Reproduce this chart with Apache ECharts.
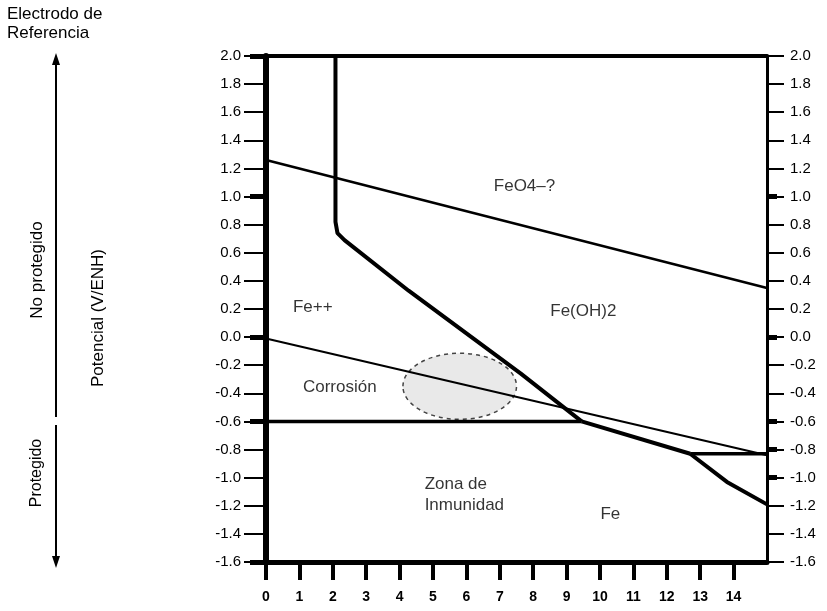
<!DOCTYPE html>
<html>
<head>
<meta charset="utf-8">
<script src="https://cdn.jsdelivr.net/npm/echarts@6/dist/echarts.min.js"></script>
<style>
  html, body { margin: 0; padding: 0; background: #fff; }
  #chart { width: 827px; height: 611px; }
</style>
</head>
<body>
<div id="chart"></div>
<script>
// pH ticks and potential range
const phTicks = [0, 1, 2, 3, 4, 5, 6, 7, 8, 9, 10, 11, 12, 13, 14];
const leftThickTicks = [2.0, 1.0, 0.0, -0.6, -1.6];
const rightThickTicks = [1.0, 0.0, -0.6, -0.8, -1.0];

// boundary lines [pH, E]
const oxygenLine = [[0, 1.26], [15, 0.35]];
const hydrogenLine = [[0, -0.01], [15, -0.84]];
const fe2FeLine = [[0, -0.6], [9.45, -0.6]];
const fe2FeOH2Line = [[2.08, 2.0], [2.08, 0.82], [2.14, 0.74], [2.35, 0.69], [4.27, 0.33], [7.63, -0.26], [9.45, -0.6]];
const feOH2FeLine = [[9.45, -0.6], [12.7, -0.83]];
const feFlatLine = [[12.7, -0.83], [15, -0.83]];
const feLowerLine = [[12.7, -0.83], [13.8, -1.03], [15, -1.19]];

// corrosion ellipse: centre pH, centre E, radius pH, radius E
const corrosionZone = [[5.8, -0.35, 1.7, 0.235]];

// region labels
const regionLabels = [
  { name: 'FeO4\u2013?', value: [7.74, 1.07] },
  { name: 'Fe(OH)2', value: [9.5, 0.185] },
  { name: 'Fe++', value: [1.4, 0.21] },
  { name: 'Corrosión', value: [2.21, -0.36] },
  { name: 'Fe', value: [10.31, -1.26] }
];
const immunityLabel = [{ name: 'Zona de\nInmunidad', value: [4.75, -1.12] }];

const FONT = 'Liberation Sans';
const fmt = v => v.toFixed(1);

let myChart = echarts.init(document.getElementById('chart'));

function lineSeries(data, width) {
  return {
    type: 'line',
    data: data,
    symbol: 'none',
    silent: true,
    lineStyle: { color: '#000', width: width },
    z: 3
  };
}

myChart.setOption({
  animation: false,
  backgroundColor: '#fff',
  grid: { left: 266, right: 60, top: 56, bottom: 49 },
  xAxis: [
    {
      type: 'value',
      position: 'bottom',
      min: 0,
      max: 15,
      interval: 1,
      splitLine: { show: false },
      axisLine: { onZero: false, lineStyle: { color: '#000', width: 5 } },
      axisTick: { customValues: phTicks, length: 18, lineStyle: { color: '#000', width: 4 } },
      axisLabel: {
        customValues: phTicks,
        margin: 28,
        color: '#000',
        fontFamily: FONT,
        fontSize: 14,
        fontWeight: 'bold'
      }
    },
    {
      type: 'value',
      position: 'top',
      min: 0,
      max: 15,
      splitLine: { show: false },
      axisLine: { onZero: false, lineStyle: { color: '#000', width: 4 } },
      axisTick: { show: false },
      axisLabel: { show: false }
    }
  ],
  yAxis: [
    {
      type: 'value',
      position: 'left',
      min: -1.6,
      max: 2.0,
      interval: 0.2,
      splitLine: { show: false },
      axisLine: { onZero: false, lineStyle: { color: '#000', width: 6 } },
      axisTick: { length: 22, lineStyle: { color: '#000', width: 2 } },
      axisLabel: { margin: 25, color: '#000', fontFamily: FONT, fontSize: 15, formatter: fmt }
    },
    {
      type: 'value',
      position: 'right',
      min: -1.6,
      max: 2.0,
      interval: 0.2,
      splitLine: { show: false },
      axisLine: { onZero: false, lineStyle: { color: '#000', width: 3 } },
      axisTick: { length: 17, lineStyle: { color: '#000', width: 2 } },
      axisLabel: { margin: 23, color: '#000', fontFamily: FONT, fontSize: 15, formatter: fmt }
    },
    {
      // thick ticks on left
      type: 'value',
      position: 'left',
      min: -1.6,
      max: 2.0,
      splitLine: { show: false },
      axisLine: { show: false, onZero: false },
      axisTick: { customValues: leftThickTicks, length: 16, lineStyle: { color: '#000', width: 5 } },
      axisLabel: { show: false }
    },
    {
      // thick ticks on right
      type: 'value',
      position: 'right',
      min: -1.6,
      max: 2.0,
      splitLine: { show: false },
      axisLine: { show: false, onZero: false },
      axisTick: { customValues: rightThickTicks, length: 10, lineStyle: { color: '#000', width: 5 } },
      axisLabel: { show: false }
    }
  ],
  graphic: [
    { type: 'text', left: 7, top: 5, style: { text: 'Electrodo de\nReferencia', fontFamily: FONT, fontSize: 17, lineHeight: 19, fill: '#000' } },
    { type: 'line', shape: { x1: 56, y1: 62, x2: 56, y2: 417 }, style: { stroke: '#000', lineWidth: 2 } },
    { type: 'polygon', shape: { points: [[56, 53], [52, 65], [60, 65]] }, style: { fill: '#000' } },
    { type: 'line', shape: { x1: 56, y1: 425, x2: 56, y2: 560 }, style: { stroke: '#000', lineWidth: 2 } },
    { type: 'polygon', shape: { points: [[56, 568], [52, 556], [60, 556]] }, style: { fill: '#000' } },
    { type: 'text', x: 37, y: 270, rotation: Math.PI / 2, style: { text: 'No protegido', fontFamily: FONT, fontSize: 17, fill: '#000', align: 'center', verticalAlign: 'middle' } },
    { type: 'text', x: 37, y: 473, rotation: Math.PI / 2, style: { text: 'Protegido', fontFamily: FONT, fontSize: 16, fill: '#000', align: 'center', verticalAlign: 'middle' } },
    { type: 'text', x: 98, y: 318, rotation: Math.PI / 2, style: { text: 'Potencial (V/ENH)', fontFamily: FONT, fontSize: 17, fill: '#000', align: 'center', verticalAlign: 'middle' } }
  ],
  series: [
    {
      type: 'custom',
      silent: true,
      z: 2,
      data: corrosionZone,
      renderItem: function (params, api) {
        const c = api.coord([api.value(0), api.value(1)]);
        const s = api.size([api.value(2), api.value(3)]);
        return {
          type: 'ellipse',
          shape: { cx: c[0], cy: c[1], rx: s[0], ry: s[1] },
          style: { fill: 'rgba(120,120,120,0.16)', stroke: '#444', lineWidth: 1.5, lineDash: [4, 4] }
        };
      }
    },
    lineSeries(oxygenLine, 2.5),
    lineSeries(hydrogenLine, 2),
    lineSeries(fe2FeLine, 3.5),
    lineSeries(fe2FeOH2Line, 4),
    lineSeries(feOH2FeLine, 4),
    lineSeries(feFlatLine, 3.5),
    lineSeries(feLowerLine, 4),
    {
      type: 'scatter',
      data: regionLabels,
      symbolSize: 0,
      silent: true,
      z: 4,
      label: {
        show: true,
        position: 'inside',
        formatter: '{b}',
        color: '#000',
        fontFamily: FONT,
        fontSize: 17
      }
    },
    {
      type: 'scatter',
      data: immunityLabel,
      symbolSize: 0,
      silent: true,
      z: 4,
      label: {
        show: true,
        position: 'right',
        distance: 0,
        align: 'left',
        formatter: '{b}',
        color: '#000',
        fontFamily: FONT,
        fontSize: 17,
        lineHeight: 21
      }
    }
  ]
}, true);
</script>
</body>
</html>
